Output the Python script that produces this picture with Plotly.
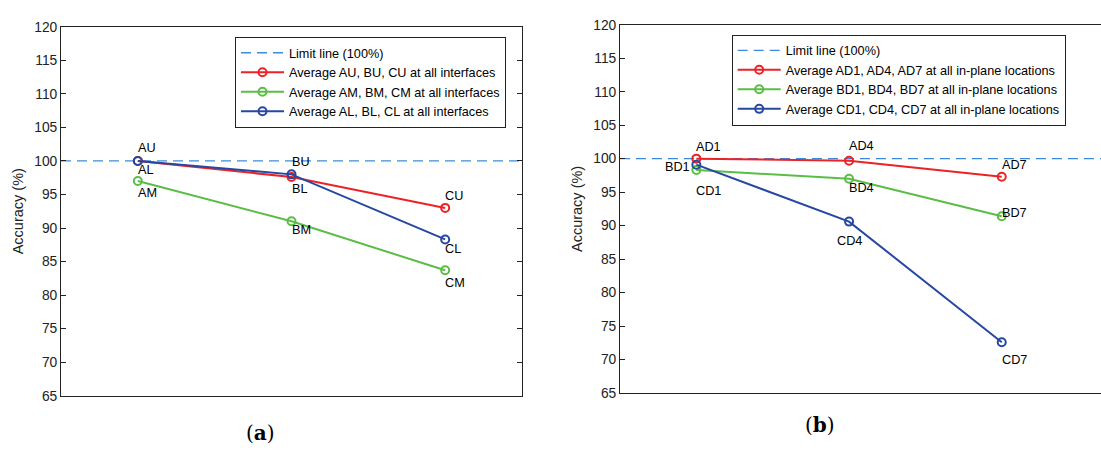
import plotly.graph_objects as go

# ---------------- data ----------------
X_POS = [1, 2, 3]
LIMIT = 100

# panel (a)
A_UPPER = [100.0, 97.6, 93.0]
A_MIDDLE = [97.0, 91.0, 83.7]
A_LOWER = [100.0, 98.0, 88.3]
A_UPPER_LABELS = ["AU", "BU", "CU"]
A_MIDDLE_LABELS = ["AM", "BM", "CM"]
A_LOWER_LABELS = ["AL", "BL", "CL"]
A_NAMES = ["Average AU, BU, CU at all interfaces",
           "Average AM, BM, CM at all interfaces",
           "Average AL, BL, CL at all interfaces"]

# panel (b)
B_A = [100.0, 99.7, 97.3]
B_B = [98.3, 97.0, 91.4]
B_C = [99.1, 90.6, 72.6]
B_A_LABELS = ["AD1", "AD4", "AD7"]
B_B_LABELS = ["BD1", "BD4", "BD7"]
B_C_LABELS = ["CD1", "CD4", "CD7"]
B_NAMES = ["Average AD1, AD4, AD7 at all in-plane locations",
           "Average BD1, BD4, BD7 at all in-plane locations",
           "Average CD1, CD4, CD7 at all in-plane locations"]

LIMIT_NAME = "Limit line (100%)"
Y_TITLE = "Accuracy (%)"
Y_RANGE = [65, 120]

# ---------------- style ----------------
W, H = 1101, 453
RED, GREEN, BLUE = "#ec2226", "#5bbd45", "#2748a2"
DASH_C = "#3f8ad8"
FONT = "Liberation Sans"
FS = 12.7

XR_A = [0.5, 3.5]
XR_B = [0.5, 3.65]

DOM_A_X = [61 / W, 522 / W]
DOM_A_Y = [1 - 402 / H, 1 - 20.5 / H]
DOM_B_X = [620 / W, 1.0]
DOM_B_Y = [1 - 399.3 / H, 1 - 18.3 / H]

fig = go.Figure()


def add_series(xa, ya, leg, ys, name, color):
    fig.add_trace(go.Scatter(
        x=X_POS, y=ys, name=name, mode="lines+markers",
        xaxis=xa, yaxis=ya, legend=leg,
        line=dict(color=color, width=2),
        marker=dict(symbol="circle-open", size=8, color=color,
                    line=dict(width=2, color=color)),
        hoverinfo="skip"))


def add_limit(xa, ya, leg, xr):
    fig.add_trace(go.Scatter(
        x=xr, y=[LIMIT, LIMIT], name=LIMIT_NAME, mode="lines",
        xaxis=xa, yaxis=ya, legend=leg,
        line=dict(color=DASH_C, width=1.3, dash="10px,6px"),
        hoverinfo="skip"))


# panel a
add_limit("x", "y", "legend", XR_A)
add_series("x", "y", "legend", A_UPPER, A_NAMES[0], RED)
add_series("x", "y", "legend", A_MIDDLE, A_NAMES[1], GREEN)
add_series("x", "y", "legend", A_LOWER, A_NAMES[2], BLUE)

# panel b
add_limit("x2", "y2", "legend2", XR_B)
add_series("x2", "y2", "legend2", B_A, B_NAMES[0], RED)
add_series("x2", "y2", "legend2", B_B, B_NAMES[1], GREEN)
add_series("x2", "y2", "legend2", B_C, B_NAMES[2], BLUE)

# point labels: (labels, values, axis suffix, list of (xanchor, xshift, yshift))
label_sets = [
    (A_UPPER_LABELS, A_UPPER, "", [("left", 0, 13), ("left", 0, 15), ("left", 0, 12)]),
    (A_MIDDLE_LABELS, A_MIDDLE, "", [("left", 0, -12), ("left", 0, -9), ("left", 0, -13)]),
    (A_LOWER_LABELS, A_LOWER, "", [("left", 0, -9), ("left", 0, -15), ("left", 0, -10)]),
    (B_A_LABELS, B_A, "2", [("left", 0, 12), ("left", 0, 15), ("left", 0, 12)]),
    (B_B_LABELS, B_B, "2", [("right", -4, 3), ("left", 0, -9), ("left", 0, 3)]),
    (B_C_LABELS, B_C, "2", [("left", 0, -26), ("center", 0, -19), ("left", 0, -18)]),
]
for labels, vals, sfx, offs in label_sets:
    for xv, yv, lab, (xa, xs, ysh) in zip(X_POS, vals, labels, offs):
        fig.add_annotation(
            x=xv, y=yv, text=lab, showarrow=False,
            xref="x" + sfx, yref="y" + sfx,
            xanchor=xa, yanchor="middle",
            xshift=xs - (2 if xa == "left" else 0), yshift=ysh,
            font=dict(family=FONT, size=FS, color="black"))

# captions
fig.add_annotation(x=260 / W, y=1 - 441 / H, xref="paper", yref="paper",
                   text="(<b>a</b>)", showarrow=False,
                   xanchor="center", yanchor="middle",
                   font=dict(family="DejaVu Serif", size=20, color="black"))
fig.add_annotation(x=820 / W, y=1 - 432 / H, xref="paper", yref="paper",
                   text="(<b>b</b>)", showarrow=False,
                   xanchor="center", yanchor="middle",
                   font=dict(family="DejaVu Serif", size=20, color="black"))

xaxis_common = dict(showticklabels=False, ticks="", showgrid=False,
                    zeroline=False, showline=True, linecolor="#222",
                    linewidth=1, mirror=True, fixedrange=True)
yaxis_common = dict(range=Y_RANGE, tick0=65, dtick=5, ticks="inside",
                    ticklen=5, tickcolor="#222", showgrid=False,
                    zeroline=False, showline=True, linecolor="#222",
                    linewidth=1,
                    tickfont=dict(family=FONT, size=13.8, color="#222"),
                    title=dict(text=Y_TITLE, standoff=7,
                               font=dict(family=FONT, size=14.5, color="#222")))

legend_common = dict(bgcolor="white", bordercolor="#222", borderwidth=1,
                     font=dict(family=FONT, size=FS, color="black"),
                     xanchor="left", yanchor="top", tracegroupgap=0,
                     itemwidth=43,
                     itemclick=False, itemdoubleclick=False)

fig.update_layout(
    width=W, height=H,
    margin=dict(l=0, r=0, t=0, b=0),
    paper_bgcolor="white", plot_bgcolor="white",
    font=dict(family=FONT, size=FS, color="black"),
    showlegend=True,
    xaxis=dict(domain=DOM_A_X, range=XR_A, anchor="y", **xaxis_common),
    yaxis=dict(domain=DOM_A_Y, anchor="x", mirror="ticks", **yaxis_common),
    xaxis2=dict(domain=DOM_B_X, range=XR_B, anchor="y2", **xaxis_common),
    yaxis2=dict(domain=DOM_B_Y, anchor="x2", mirror=False, **yaxis_common),
    legend=dict(x=235 / W, y=1 - 31 / H, **legend_common),
    legend2=dict(x=731.7 / W, y=1 - 28.5 / H, **legend_common),
)

fig.write_html("out.html")
